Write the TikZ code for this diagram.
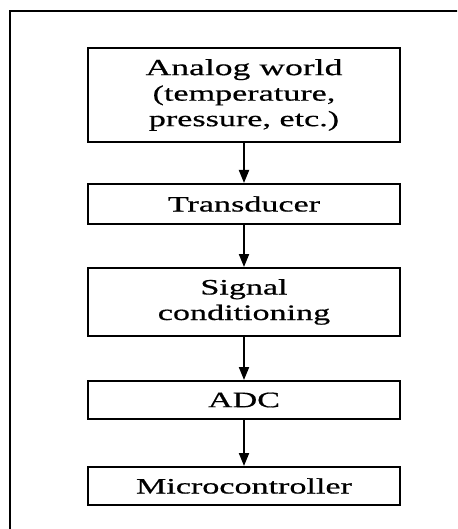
\documentclass[tikz,border=0pt]{standalone}
\usepackage{fontspec}
\setmainfont{Liberation Serif}[FakeStretch=1.55, FakeBold=0.6]
\usetikzlibrary{arrows.meta, positioning}

\begin{document}
\begin{tikzpicture}[x=1pt, y=1pt, node distance=40pt,
    blockbox/.style={draw, line width=2pt, minimum width=312pt, inner sep=0pt, align=center, font=\fontsize{22}{25.5}\selectfont},
    flowarrow/.style={-{Triangle[length=13pt, width=10pt]}, line width=2pt}]
    \useasboundingbox (0,0) rectangle (457,-529);
    \clip (0,0) rectangle (457,-529);
    % outer frame
    \draw[line width=2.8pt] (470,-11) -| (10,-540);

    \node[blockbox, minimum height=94pt] (analog) at (244,-95) {\fontsize{23}{26}\selectfont Analog world\\(temperature,\\pressure, etc.)};
    \node[blockbox, minimum height=40pt, below=of analog] (trans) {Transducer};
    \node[blockbox, minimum height=68pt, below=42pt of trans] (signal) {Signal\\conditioning};
    \node[blockbox, minimum height=38pt, below=43pt of signal] (adc) {ADC};
    \node[blockbox, minimum height=38pt, below=46pt of adc] (micro) {Microcontroller};

    % Arrows
    \draw[flowarrow] (analog) -- (trans);
    \draw[flowarrow] (trans) -- (signal);
    \draw[flowarrow] (signal) -- (adc);
    \draw[flowarrow] (adc) -- (micro);
\end{tikzpicture}
\end{document}
